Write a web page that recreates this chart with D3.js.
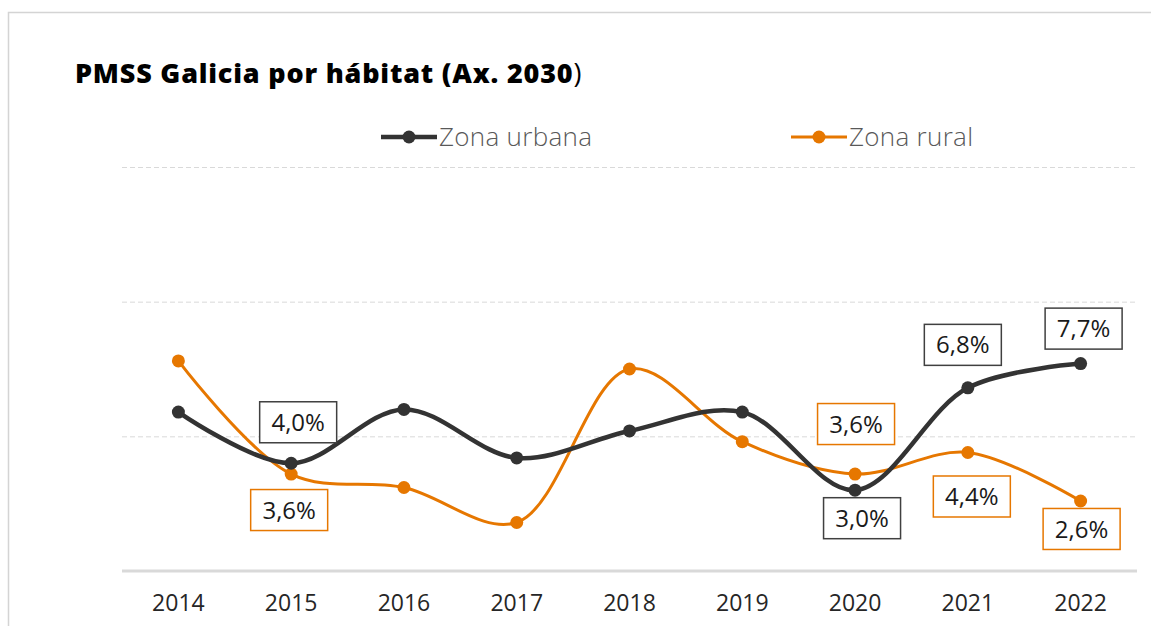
<!DOCTYPE html>
<html>
<head>
<meta charset="utf-8">
<script src="https://cdn.jsdelivr.net/npm/d3@7"></script>
<style>
  body { margin:0; background:#fff; }
  svg { font-family: "Open Sans", Lato, sans-serif; }
</style>
</head>
<body>
<svg class="one"></svg>
<script>
// data
var years = ['2014','2015','2016','2017','2018','2019','2020','2021','2022'];
var urbana = [5.9, 4.0, 6.0, 4.2, 5.2, 5.9, 3.0, 6.8, 7.7];
var rural  = [7.8, 3.6, 3.1, 1.8, 7.5, 4.8, 3.6, 4.4, 2.6];
var yTicks = [0, 5, 10, 15];
var seriesNames = ['Zona urbana', 'Zona rural'];

// which points carry a value box, and where the box sits
var urbanaLabels = [{i:1, dx:7, dy:-41}, {i:6, dx:7, dy:28}, {i:7, dx:-5, dy:-43}, {i:8, dx:3, dy:-35}];
var ruralLabels  = [{i:1, dx:-2, dy:36}, {i:6, dx:1, dy:-50}, {i:7, dx:4, dy:44}, {i:8, dx:1, dy:28}];

var svgwidth = 1151;
var svgheight = 626;

var svg = d3.select('.one')
            .attr('width', svgwidth)
            .attr('height', svgheight);

// outer frame
svg.append('path')
   .attr('d', 'M8.5,' + svgheight + 'V12.5H' + svgwidth)
   .attr('fill', 'none')
   .attr('stroke', '#d4d4d4')
   .attr('stroke-width', 1.5);

var xScale = d3.scaleBand()
               .domain(years)
               .range([122, 1137]);

var yScale = d3.scaleLinear()
               .domain([0, 15])
               .range([571, 167]);

var xc = function(i){ return xScale(years[i]) + xScale.bandwidth()/2; };

// gridlines
svg.append('g').selectAll('line')
   .data(yTicks.filter(function(d){ return d > 0; }))
   .enter().append('line')
   .attr('x1', xScale.range()[0])
   .attr('x2', xScale.range()[1])
   .attr('y1', function(d){ return yScale(d) + 0.5; })
   .attr('y2', function(d){ return yScale(d) + 0.5; })
   .attr('stroke', '#d9d9d9')
   .attr('stroke-width', 1)
   .attr('stroke-dasharray', '5,3');

// baseline
svg.append('line')
   .attr('x1', xScale.range()[0])
   .attr('x2', xScale.range()[1])
   .attr('y1', yScale(0))
   .attr('y2', yScale(0))
   .attr('stroke', '#d9d9d9')
   .attr('stroke-width', 3);

// x axis labels
var xAxis = d3.axisBottom(xScale).tickSize(0).tickPadding(0);
var gx = svg.append('g')
   .attr('transform', 'translate(0,' + (yScale(0) + 40) + ')')
   .call(xAxis);
gx.select('.domain').remove();
gx.selectAll('text')
  .attr('dy', 0)
  .attr('font-size', 23)
  .attr('font-family', '"Open Sans", sans-serif')
  .attr('fill', '#262626');

var linemake = d3.line()
                 .x(function(d, i){ return xc(i); })
                 .y(function(d){ return yScale(d); })
                 .curve(d3.curveCatmullRom.alpha(0.5));

var drawSeries = function(values, color, lw, r){
  svg.append('path')
     .datum(values)
     .attr('d', linemake)
     .attr('fill', 'none')
     .attr('stroke', color)
     .attr('stroke-width', lw);
  svg.append('g').selectAll('circle')
     .data(values).enter()
     .append('circle')
     .attr('cx', function(d, i){ return xc(i); })
     .attr('cy', function(d){ return yScale(d); })
     .attr('r', r)
     .attr('fill', color);
};

drawSeries(rural, '#e67700', 3, 6.5);
drawSeries(urbana, '#333333', 4.5, 6.5);

var fmt = function(v){ return v.toFixed(1).replace('.', ',') + '%'; };

var drawLabels = function(values, labels, color){
  var g = svg.append('g').selectAll('g')
     .data(labels).enter()
     .append('g')
     .attr('transform', function(d){
       return 'translate(' + (xc(d.i) + d.dx) + ',' + (yScale(values[d.i]) + d.dy) + ')';
     });
  g.append('rect')
   .attr('x', -38.5).attr('y', -20.5)
   .attr('width', 77).attr('height', 41)
   .attr('fill', '#fff')
   .attr('stroke', color)
   .attr('stroke-width', 1.5);
  g.append('text')
   .attr('text-anchor', 'middle')
   .attr('dy', '0.36em')
   .attr('font-size', 24)
   .attr('fill', '#1a1a1a')
   .text(function(d){ return fmt(values[d.i]); });
};

drawLabels(urbana, urbanaLabels, '#404040');
drawLabels(rural, ruralLabels, '#e67700');

// title
var title = svg.append('text')
   .attr('x', 75).attr('y', 83)
   .attr('font-size', 27)
   .attr('font-weight', 800)
   .attr('letter-spacing', 0.8)
   .attr('fill', '#000');
title.append('tspan').text('PMSS Galicia por hábitat (Ax. 2030');
title.append('tspan').attr('font-weight', 400).text(')');

// legend
var legend = [{name:seriesNames[0], color:'#333333', x:381, lw:4.5},
              {name:seriesNames[1], color:'#e67700', x:791, lw:3}];
var lg = svg.append('g').selectAll('g')
   .data(legend).enter().append('g')
   .attr('transform', function(d){ return 'translate(' + d.x + ',137)'; });
lg.append('line')
  .attr('x1', 0).attr('x2', 56)
  .attr('stroke', function(d){ return d.color; })
  .attr('stroke-width', function(d){ return d.lw; });
lg.append('circle')
  .attr('cx', 28).attr('r', 6.5)
  .attr('fill', function(d){ return d.color; });
lg.append('text')
  .attr('x', 58).attr('dy', '0.36em')
  .attr('font-size', 26)
  .attr('font-weight', 300)
  .attr('letter-spacing', 0.3)
  .attr('fill', '#595959')
  .text(function(d){ return d.name; });
</script>
</body>
</html>
